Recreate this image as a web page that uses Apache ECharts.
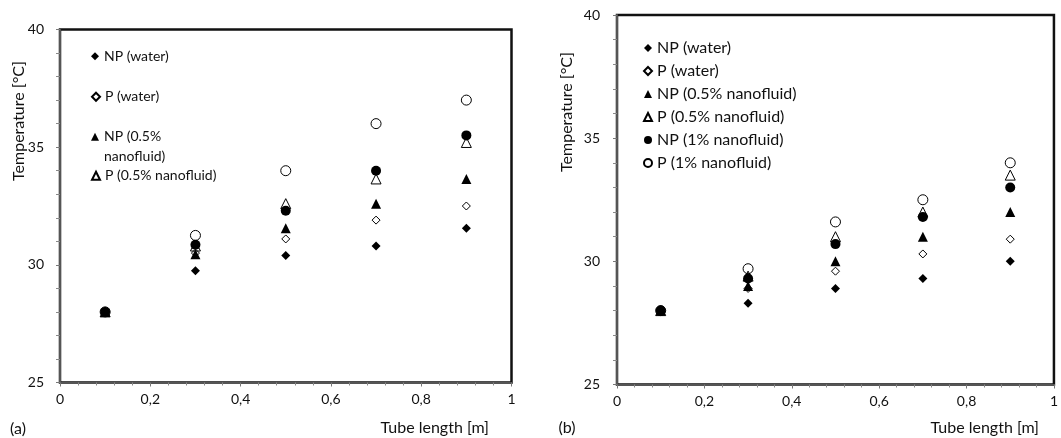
<!DOCTYPE html>
<html>
<head>
<meta charset="utf-8">
<script src="https://cdn.jsdelivr.net/npm/echarts@6/dist/echarts.min.js"></script>
<style>
  html, body { margin: 0; padding: 0; background: #fff; }
  #chart { width: 1061px; height: 438px; }
</style>
</head>
<body>
<div id="chart"></div>
<script>
// tube positions [m]
const tubeLength = [0.1, 0.3, 0.5, 0.7, 0.9];

// (a) temperatures [°C]
const aNpWater = [28, 29.75, 30.4, 30.8, 31.55];
const aPWater = [28, 30.5, 31.1, 31.9, 32.5];
const aNp05 = [28, 30.45, 31.55, 32.6, 33.65];
const aP05 = [28, 30.8, 32.6, 33.65, 35.2];
const aNp1 = [28, 30.85, 32.3, 34.0, 35.5];
const aP1 = [28, 31.25, 34.0, 36.0, 37.0];

// (b) temperatures [°C]
const bNpWater = [28, 28.3, 28.9, 29.3, 30.0];
const bPWater = [28, 28.9, 29.6, 30.3, 30.9];
const bNp05 = [28, 29.0, 30.0, 31.0, 32.0];
const bP05 = [28, 29.4, 31.0, 32.0, 33.5];
const bNp1 = [28, 29.3, 30.7, 31.8, 33.0];
const bP1 = [28, 29.7, 31.6, 32.5, 34.0];

const seriesNames = ['NP (water)', 'P (water)', 'NP (0.5% nanofluid)', 'P (0.5% nanofluid)', 'NP (1% nanofluid)', 'P (1% nanofluid)'];
const xTicks = ['0', '0,2', '0,4', '0,6', '0,8', '1'];

const FONT = 'Lato';
const INK = '#111';

// open markers have no fill, like the spreadsheet ones
const filled = { color: '#000', opacity: 1 };
const hollow = { color: 'rgba(255,255,255,0)', borderColor: '#000', borderWidth: 1, opacity: 1 };

const markers = [
  { symbol: 'diamond', symbolSize: 9, itemStyle: filled },
  { symbol: 'diamond', symbolSize: 8, itemStyle: hollow },
  { symbol: 'triangle', symbolSize: 10, itemStyle: filled },
  { symbol: 'triangle', symbolSize: 10, itemStyle: hollow },
  { symbol: 'circle', symbolSize: 10, itemStyle: filled },
  { symbol: 'circle', symbolSize: 10, itemStyle: hollow }
];

function pairs(values) {
  return values.map((v, i) => [tubeLength[i], v]);
}

function makeSeries(sets, axisIndex) {
  return sets.map((vals, i) => Object.assign({
    name: seriesNames[i],
    type: 'scatter',
    xAxisIndex: axisIndex,
    yAxisIndex: axisIndex,
    data: pairs(vals),
    z: 3 + i
  }, markers[i]));
}

function xAxisFor(gridIndex) {
  return {
    type: 'value', gridIndex: gridIndex, min: 0, max: 1, interval: 0.2,
    axisLine: { show: true, onZero: false, lineStyle: { color: '#555', width: 2 } },
    axisTick: { show: true, length: 4, lineStyle: { color: '#777' } },
    minorTick: { show: true, splitNumber: 5, length: 3, lineStyle: { color: '#888' } },
    splitLine: { show: false },
    axisLabel: {
      color: INK, fontFamily: FONT, fontSize: 14, margin: 10,
      formatter: v => xTicks[Math.round(v / 0.2)]
    }
  };
}

function yAxisFor(gridIndex, margin) {
  return {
    type: 'value', gridIndex: gridIndex, min: 25, max: 40, interval: 5,
    axisLine: { show: true, onZero: false, lineStyle: { color: '#555', width: 2 } },
    axisTick: { show: true, length: 4, lineStyle: { color: '#777' } },
    minorTick: { show: true, splitNumber: 5, length: 4, lineStyle: { color: '#888' } },
    splitLine: { show: false },
    axisLabel: { color: INK, fontFamily: FONT, fontSize: 14, margin: margin }
  };
}

const legendText = { color: INK, fontFamily: FONT, fontSize: 14 };

// (a) shows only four legend rows, spaced out
function legendA(name, top, formatter) {
  return {
    data: [name], left: 91, top: top, padding: 0, orient: 'vertical',
    itemWidth: 8, itemHeight: 8, itemGap: 0, selectedMode: false,
    textStyle: Object.assign({ lineHeight: 19.5 }, legendText),
    formatter: formatter
  };
}

const chart = echarts.init(document.getElementById('chart'), null, { renderer: 'canvas' });

const option = {
  animation: false,
  backgroundColor: '#fff',
  grid: [
    { left: 60, top: 29.5, width: 451.5, height: 353, show: true, borderColor: '#111', borderWidth: 2.5 },
    { left: 617, top: 15, width: 444, height: 369.5, show: true, borderColor: '#111', borderWidth: 2.5 }
  ],
  xAxis: [xAxisFor(0), xAxisFor(1)],
  yAxis: [yAxisFor(0, 16), yAxisFor(1, 17)],
  legend: [
    legendA(seriesNames[0], 46.5),
    legendA(seriesNames[1], 87),
    legendA(seriesNames[2], 107.5, () => ' \nNP (0.5%\nnanofluid)'),
    legendA(seriesNames[3], 166),
    {
      data: seriesNames, left: 643, top: 39, padding: 0, orient: 'vertical',
      itemWidth: 8, itemHeight: 8, itemGap: 5, selectedMode: false,
      textStyle: { color: INK, fontFamily: FONT, fontSize: 16, lineHeight: 18 }
    }
  ],
  graphic: [
    { type: 'text', x: 19, y: 121, rotation: Math.PI / 2,
      style: { text: 'Temperature [°C]', fontFamily: FONT, fontSize: 16, fill: INK, align: 'center', verticalAlign: 'middle' } },
    { type: 'text', x: 567, y: 112, rotation: Math.PI / 2,
      style: { text: 'Temperature [°C]', fontFamily: FONT, fontSize: 16, fill: INK, align: 'center', verticalAlign: 'middle' } },
    { type: 'text', x: 489, y: 428,
      style: { text: 'Tube length [m]', fontFamily: FONT, fontSize: 16, fill: INK, align: 'right', verticalAlign: 'middle' } },
    { type: 'text', x: 1039, y: 428,
      style: { text: 'Tube length [m]', fontFamily: FONT, fontSize: 16, fill: INK, align: 'right', verticalAlign: 'middle' } },
    { type: 'text', x: 18, y: 429,
      style: { text: '(a)', fontFamily: FONT, fontSize: 16, fill: INK, align: 'center', verticalAlign: 'middle' } },
    { type: 'text', x: 567, y: 428,
      style: { text: '(b)', fontFamily: FONT, fontSize: 16, fill: INK, align: 'center', verticalAlign: 'middle' } }
  ],
  series: makeSeries([aNpWater, aPWater, aNp05, aP05, aNp1, aP1], 0)
    .concat(makeSeries([bNpWater, bPWater, bNp05, bP05, bNp1, bP1], 1))
};

chart.setOption(option);
</script>
</body>
</html>
